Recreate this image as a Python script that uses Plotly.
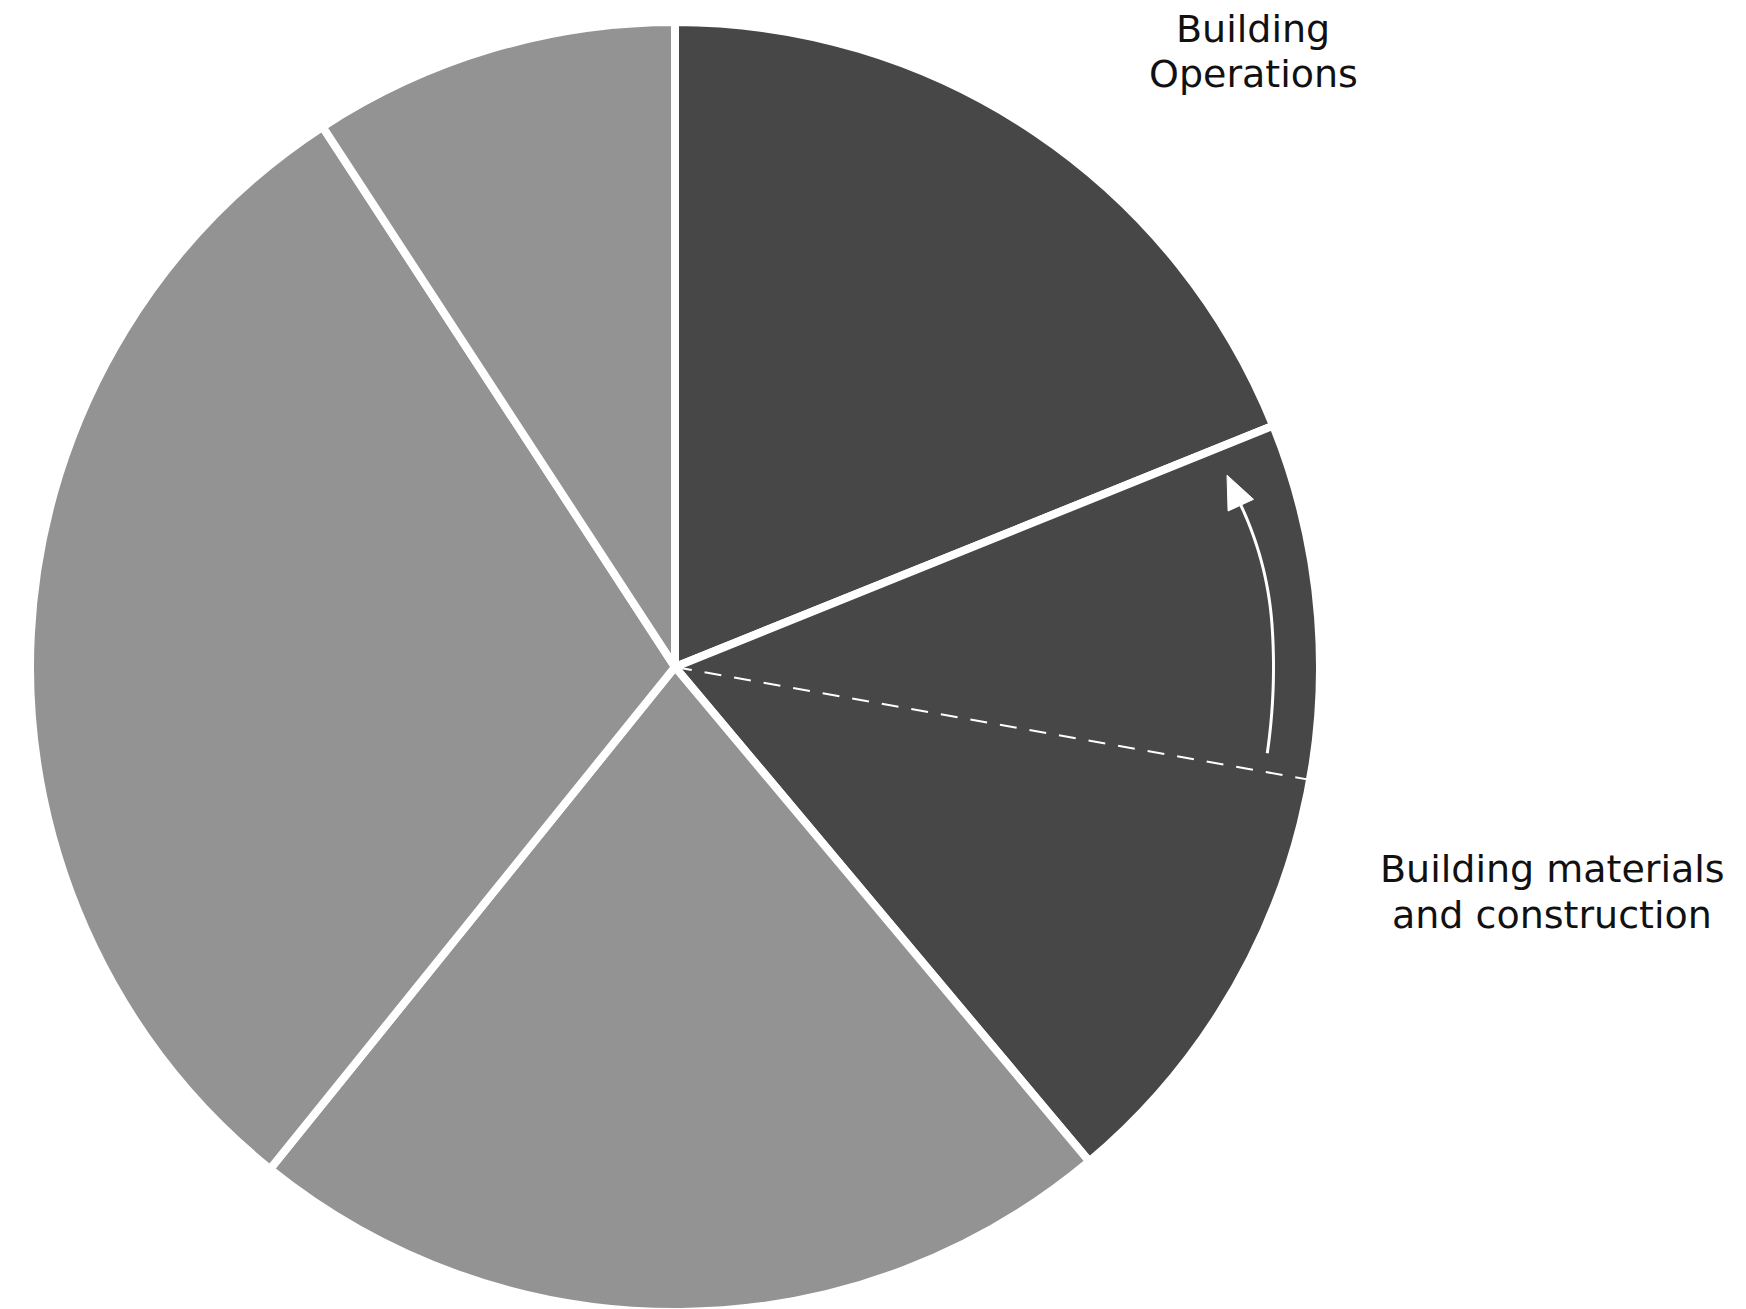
import numpy as np
import plotly.graph_objects as go

W, H = 1746, 1309

# ---- data (percent shares, clockwise from 12 o'clock) ----
pie_labels = ["Building Operations", "Building materials and construction",
              "Sector C", "Sector D", "Sector E"]
pie_values = [18.9, 20.0, 21.9, 30.0, 9.2]
pie_colors = ["#474747", "#474747", "#939393", "#939393", "#939393"]
dashed_split = 8.9          # share inside slice 2 where the dashed divider sits
label_lines_ops = ["Building", "Operations"]
label_lines_mat = ["Building materials", "and construction"]

# ---- layout geometry (figure pixels; page body adds an 8px offset) ----
OFF = 8
cx, cy, R = 675 - OFF, 667 - OFF, 645
total = sum(pie_values)


def ang(share_cum):
    return 360.0 * share_cum / total


def pt(theta_deg, r):
    t = np.radians(theta_deg)
    return cx + r * np.sin(t), cy - r * np.cos(t)


fig = go.Figure()

fig.add_trace(go.Pie(
    labels=pie_labels, values=pie_values, sort=False, direction="clockwise",
    rotation=0, textinfo="none", hoverinfo="label+percent",
    marker=dict(colors=pie_colors, line=dict(color="white", width=8)),
    domain=dict(x=[(cx - R) / W, (cx + R) / W],
                y=[(H - (cy + R)) / H, (H - (cy - R)) / H]),
    showlegend=False,
))

shapes = []
# dashed divider inside slice 2
th_dash = ang(pie_values[0] + dashed_split)
x0, y0 = pt(th_dash, 0)
x1, y1 = pt(th_dash, R)
shapes.append(dict(type="line", xref="x", yref="y", x0=x0, y0=y0, x1=x1, y1=y1,
                   line=dict(color="white", width=2, dash="17px,13px"), layer="above"))

# curved arrow from the dashed divider toward the slice-1 boundary
th_b1 = ang(pie_values[0])
th_start = th_dash - 1.8
th_end = th_b1 + 6.0
ths = np.linspace(th_start, th_end, 80)
rs = 598.5 - 0.07 * np.maximum(0, 86 - ths) ** 2
pts = np.array([pt(t, r) for t, r in zip(ths, rs)])
path = "M " + " L ".join(f"{x:.2f},{y:.2f}" for x, y in pts)
shapes.append(dict(type="path", xref="x", yref="y", path=path,
                   line=dict(color="white", width=3), layer="above"))
# arrow head
d = pts[-1] - pts[-3]
d = d / np.linalg.norm(d)
rot = np.radians(0)
d = np.array([d[0] * np.cos(rot) - d[1] * np.sin(rot), d[0] * np.sin(rot) + d[1] * np.cos(rot)])
n = np.array([-d[1], d[0]])
base = pts[-1]
tip = base + 33 * d
c1 = base + 14 * n
c2 = base - 14 * n
head = f"M {tip[0]:.2f},{tip[1]:.2f} L {c1[0]:.2f},{c1[1]:.2f} L {c2[0]:.2f},{c2[1]:.2f} Z"
shapes.append(dict(type="path", xref="x", yref="y", path=head, fillcolor="white",
                   line=dict(color="white", width=1), layer="above"))

font = dict(family="DejaVu Sans, sans-serif", size=38, color="#111111")
ann = []
for txt, (x, y) in zip(label_lines_ops, [(1252.5 - OFF, 29 - OFF), (1253 - OFF, 74 - OFF)]):
    ann.append(dict(x=x, y=y, xref="x", yref="y", text=txt, showarrow=False,
                    font=font, xanchor="center", yanchor="middle"))
for txt, (x, y) in zip(label_lines_mat, [(1552 - OFF, 869 - OFF), (1552 - OFF, 915 - OFF)]):
    ann.append(dict(x=x, y=y, xref="x", yref="y", text=txt, showarrow=False,
                    font=font, xanchor="center", yanchor="middle"))

fig.update_layout(
    width=W, height=H, margin=dict(l=0, r=0, t=0, b=0),
    paper_bgcolor="white", plot_bgcolor="rgba(0,0,0,0)",
    xaxis=dict(range=[0, W], visible=False, fixedrange=True),
    yaxis=dict(range=[H, 0], visible=False, fixedrange=True),
    annotations=ann, shapes=shapes,
)

fig.write_html("out.html")
